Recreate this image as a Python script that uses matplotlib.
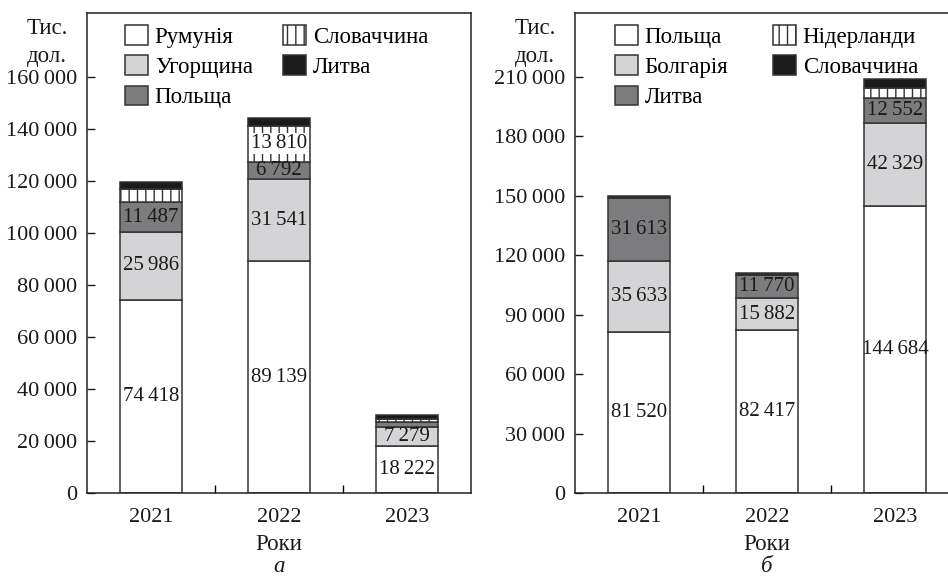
import matplotlib
matplotlib.use("Agg")
import matplotlib.pyplot as plt
from matplotlib.patches import Patch
from matplotlib.ticker import FuncFormatter, FixedLocator
import numpy as np

plt.rcParams['font.family'] = ['Liberation Serif', 'DejaVu Serif']
plt.rcParams['hatch.linewidth'] = 1.0
plt.rcParams['hatch.color'] = '#333333'

years = ['2021', '2022', '2023']

# Panel a
countries_a = ['Румунія', 'Угорщина', 'Польща', 'Словаччина', 'Литва']
values_a = {
    'Румунія':    [74418, 89139, 18222],
    'Угорщина':   [25986, 31541, 7279],
    'Польща':     [11487, 6792, 1700],
    'Словаччина': [5000, 13810, 1400],
    'Литва':      [2700, 2900, 1300],
}
labeled_a = {
    'Румунія':    [True, True, True],
    'Угорщина':   [True, True, True],
    'Польща':     [True, True, False],
    'Словаччина': [False, True, False],
    'Литва':      [False, False, False],
}
yticks_a = [0, 20000, 40000, 60000, 80000, 100000, 120000, 140000, 160000]

# Panel б
countries_b = ['Польща', 'Болгарія', 'Литва', 'Нідерланди', 'Словаччина']
values_b = {
    'Польща':     [81520, 82417, 144684],
    'Болгарія':   [35633, 15882, 42329],
    'Литва':      [31613, 11770, 12552],
    'Нідерланди': [0, 0, 4700],
    'Словаччина': [1300, 1100, 4500],
}
labeled_b = {
    'Польща':     [True, True, True],
    'Болгарія':   [True, True, True],
    'Литва':      [True, True, True],
    'Нідерланди': [False, False, False],
    'Словаччина': [False, False, False],
}
yticks_b = [0, 30000, 60000, 90000, 120000, 150000, 180000, 210000]

styles = [
    dict(facecolor='white', hatch=None),
    dict(facecolor='#d4d4d6', hatch=None),
    dict(facecolor='#7c7c7e', hatch=None),
    dict(facecolor='white', hatch='||'),
    dict(facecolor='#1b1b1b', hatch=None),
]
EDGE = '#333333'
FS_NUM = 15
FS_TICK = 16
FS_TXT = 16.5
TS = '\u2009'


def fmt(v):
    return f"{int(v):,}".replace(',', TS)


W, H = 948, 577
fig = plt.figure(figsize=(W / 100, H / 100), dpi=100)


def panel(left_px, countries, values, labeled, yticks, ymax_label, leg_x1, leg_x2, ylab_x, letter):
    ax = fig.add_axes([left_px / W, (H - 493) / H, 384 / W, 480 / H])
    top = 480 / 416 * ymax_label
    ax.set_ylim(0, top)
    ax.set_xlim(-0.5, 2.5)
    x = np.arange(len(years))
    bottom = np.zeros(len(years))
    handles = []
    for i, c in enumerate(countries):
        vals = np.array(values[c], dtype=float)
        st = styles[i]
        ax.bar(x, vals, width=0.485, bottom=bottom, facecolor=st['facecolor'],
               edgecolor=EDGE, linewidth=1.1, hatch=st['hatch'], zorder=2)
        for j in range(len(years)):
            if labeled[c][j]:
                bb = None
                if st['hatch']:
                    bb = dict(facecolor='white', edgecolor='none', pad=0.5)
                ax.text(x[j], bottom[j] + vals[j] / 2, fmt(vals[j]), ha='center',
                        va='center', fontsize=FS_NUM, color='#1a1a1a', zorder=3, bbox=bb)
        bottom += vals
        handles.append(Patch(facecolor=st['facecolor'], edgecolor=EDGE, linewidth=1.1,
                             hatch=st['hatch'], label=c))
    for s in ax.spines.values():
        s.set_linewidth(1.1)
        s.set_color('#222222')
    ax.yaxis.set_major_locator(FixedLocator(yticks))
    ax.yaxis.set_major_formatter(FuncFormatter(lambda v, p: fmt(v)))
    ax.tick_params(axis='y', direction='in', length=5.5, width=1.0, pad=7,
                   labelsize=FS_TICK, colors='#1a1a1a')
    ax.set_xticks(x)
    ax.set_xticklabels(years)
    ax.tick_params(axis='x', which='major', length=0, pad=11, labelsize=FS_TICK,
                   colors='#1a1a1a')
    ax.set_xticks([0.5, 1.5], minor=True)
    ax.tick_params(axis='x', which='minor', direction='in', length=5.5, width=1.0)

    common = dict(frameon=False, fontsize=FS_TXT, handlelength=1.0, handleheight=0.95,
                  handletextpad=0.3, labelspacing=0.33, borderpad=0,
                  borderaxespad=0, loc='upper left')
    ytop = (493 - 25) / 480
    l1 = ax.legend(handles=handles[:3], bbox_to_anchor=((leg_x1 - left_px) / 384, ytop), **common)
    ax.add_artist(l1)
    ax.legend(handles=handles[3:], bbox_to_anchor=((leg_x2 - left_px) / 384, ytop), **common)

    fig.text(ylab_x / W, 1 - 34 / H, 'Тис.', ha='center', va='baseline', fontsize=FS_TXT,
             color='#1a1a1a')
    fig.text(ylab_x / W, 1 - 62 / H, 'дол.', ha='center', va='baseline', fontsize=FS_TXT,
             color='#1a1a1a')
    cx = left_px + 192
    fig.text(cx / W, 1 - 545 / H, 'Роки', ha='center', va='center', fontsize=FS_TXT,
             color='#1a1a1a')
    fig.text(cx / W, 1 - 566 / H, letter, ha='center', va='center', fontsize=FS_TXT,
             style='italic', color='#1a1a1a')
    return ax


panel(87, countries_a, values_a, labeled_a, yticks_a, 160000, 125, 283, 47, 'а')
panel(575, countries_b, values_b, labeled_b, yticks_b, 210000, 615, 773, 535, 'б')

fig.savefig('out.png', dpi=100)
